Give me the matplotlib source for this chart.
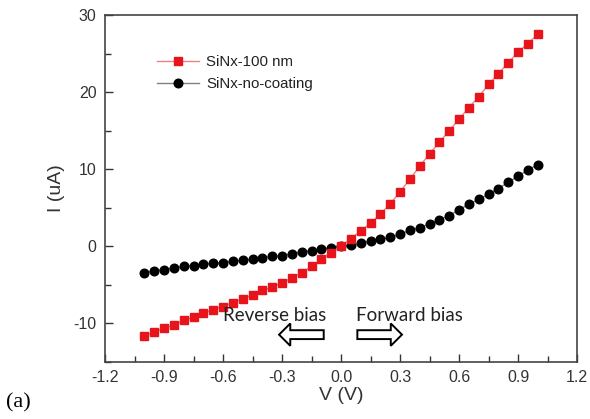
import numpy as np
import matplotlib
matplotlib.use('Agg')
import matplotlib.pyplot as plt
from matplotlib.patches import FancyArrow
from matplotlib.ticker import MultipleLocator

# bias voltage (V), 0.05 V steps
voltage = [-1.0, -0.95, -0.9, -0.85, -0.8, -0.75, -0.7, -0.65, -0.6, -0.55,
           -0.5, -0.45, -0.4, -0.35, -0.3, -0.25, -0.2, -0.15, -0.1, -0.05,
           0.0, 0.05, 0.1, 0.15, 0.2, 0.25, 0.3, 0.35, 0.4, 0.45,
           0.5, 0.55, 0.6, 0.65, 0.7, 0.75, 0.8, 0.85, 0.9, 0.95, 1.0]

# current (uA)
i_sinx_100 = [-11.6, -11.1, -10.6, -10.2, -9.6, -9.2, -8.7, -8.2, -7.8, -7.3,
              -6.8, -6.3, -5.7, -5.3, -4.7, -4.1, -3.4, -2.6, -1.7, -0.8,
              0.0, 1.0, 2.0, 3.0, 4.2, 5.5, 7.1, 8.7, 10.4, 12.0,
              13.5, 15.0, 16.5, 18.0, 19.4, 21.0, 22.4, 23.8, 25.2, 26.3, 27.5]
i_sinx_nocoat = [-3.4, -3.2, -3.0, -2.8, -2.6, -2.5, -2.3, -2.2, -2.1, -1.95,
                 -1.8, -1.7, -1.5, -1.3, -1.2, -0.95, -0.75, -0.55, -0.4, -0.15,
                 0.0, 0.17, 0.4, 0.65, 0.9, 1.2, 1.55, 2.1, 2.4, 2.95,
                 3.45, 4.0, 4.75, 5.45, 6.1, 6.75, 7.5, 8.3, 9.1, 9.9, 10.6]

xticks = [-1.2, -0.9, -0.6, -0.3, 0.0, 0.3, 0.6, 0.9, 1.2]
yticks = [-10, 0, 10, 20, 30]

plt.rcParams['font.family'] = ['Liberation Sans', 'DejaVu Sans']
plt.rcParams['axes.unicode_minus'] = False

fig = plt.figure(figsize=(5.9, 4.19), dpi=100)
ax = fig.add_axes([0.178, 0.136, 0.800, 0.828])

ax.plot(voltage, i_sinx_100, color='#f08080', lw=1.0, marker='s', ms=5.2,
        mfc='#e8141b', mec='#e8141b', label='SiNx-100 nm', zorder=3)
ax.plot(voltage, i_sinx_nocoat, color='#808080', lw=1.0, marker='o', ms=6.2,
        mfc='black', mec='black', label='SiNx-no-coating', zorder=2)

ax.set_xlim(-1.2, 1.2)
ax.set_ylim(-15, 30)
ax.set_xticks(xticks)
ax.set_xticklabels(['%.1f' % v for v in xticks])
ax.set_yticks(yticks)
ax.xaxis.set_minor_locator(MultipleLocator(0.15))
ax.yaxis.set_minor_locator(MultipleLocator(5))
ax.tick_params(which='both', direction='in', top=False, right=False,
               labelsize=11.5, colors='#333333', labelcolor='#333333', width=1.0)
ax.tick_params(which='major', length=6, pad=6)
ax.tick_params(which='minor', length=4)
for s in ax.spines.values():
    s.set_color('#444444')
    s.set_linewidth(1.2)

ax.set_xlabel('V (V)', fontsize=14, color='#333333', labelpad=1)
ax.set_ylabel('I (uA)', fontsize=14, color='#333333', labelpad=6)

leg = ax.legend(loc='upper left', bbox_to_anchor=(0.11, 0.885), frameon=False,
                fontsize=10.8, handlelength=2.8, handletextpad=0.5,
                labelspacing=0.55, borderpad=0, borderaxespad=0)
for t in leg.get_texts():
    t.set_color('#222222')

# bias annotations
ax.text(-0.34, -9.0, 'Reverse bias', fontsize=13.5, family='Lato',
        color='#222222', ha='center', va='center')
ax.text(0.35, -9.0, 'Forward bias', fontsize=13.5, family='Lato',
        color='#222222', ha='center', va='center')
ax.add_patch(FancyArrow(-0.088, -11.45, -0.17, 0, width=1.15, head_width=2.9,
                        head_length=0.057, length_includes_head=False,
                        fc='white', ec='black', lw=1.4, zorder=4))
ax.add_patch(FancyArrow(0.083, -11.45, 0.17, 0, width=1.15, head_width=2.9,
                        head_length=0.057, length_includes_head=False,
                        fc='white', ec='black', lw=1.4, zorder=4))

fig.text(0.01, 0.038, '(a)', fontsize=16, family='Liberation Serif',
         ha='left', va='center')

fig.savefig('out.png', dpi=100)
